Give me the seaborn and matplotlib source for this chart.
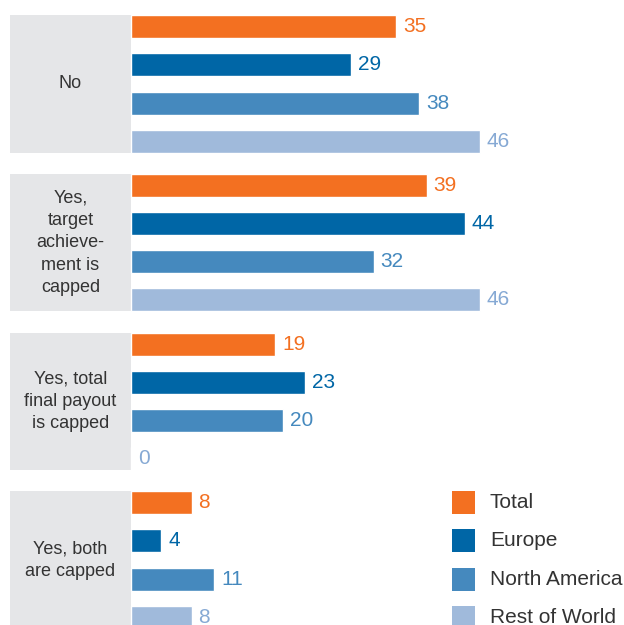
import matplotlib
matplotlib.use("Agg")
import matplotlib.pyplot as plt
from matplotlib.patches import Rectangle
import pandas as pd
import seaborn as sns

# Survey answers and the share (%) of respondents per region
answers = [
    "No",
    "Yes,\ntarget\nachieve-\nment is\ncapped",
    "Yes, total\nfinal payout\nis capped",
    "Yes, both\nare capped",
]
regions = ["Total", "Europe", "North America", "Rest of World"]
total = [35, 39, 19, 8]
europe = [29, 44, 23, 4]
north_america = [38, 32, 20, 11]
rest_of_world = [46, 46, 0, 8]

bar_colors = ["#F37021", "#0066A6", "#4589BE", "#A0BADB"]
label_colors = ["#F37021", "#0066A6", "#4589BE", "#86A9D4"]
box_color = "#E5E6E8"
text_color = "#333333"

rows = []
for region, vals in zip(regions, [total, europe, north_america, rest_of_world]):
    for answer, v in zip(answers, vals):
        rows.append({"answer": answer, "region": region, "share": v})
df = pd.DataFrame(rows)

sns.set_theme(style="white")
plt.rcParams["font.family"] = ["Liberation Sans", "DejaVu Sans"]

W, H = 624, 625
fig = plt.figure(figsize=(W / 100, H / 100), dpi=100)
ax = fig.add_axes([10 / W, 0, (624 - 10) / W, 1])

sns.barplot(
    data=df, y="answer", x="share", hue="region",
    order=answers, hue_order=regions, palette=bar_colors,
    orient="h", width=0.962, gap=0.395, saturation=1,
    legend=False, ax=ax,
)

px_per_unit = 7.58
group_px = 158.67
ax.set_xlim(-121 / px_per_unit, (624 - 131) / px_per_unit)
ax.set_ylim(3 + (625 - 560) / group_px, -84 / group_px)

# Grey panel behind each answer, spanning the height of its bars
box_half = 0.433
for i, answer in enumerate(answers):
    ax.add_patch(Rectangle((-121 / px_per_unit, i - box_half), 121 / px_per_unit,
                           2 * box_half, color=box_color, lw=0, zorder=0))
    ax.text(-60.5 / px_per_unit, i, answer, ha="center", va="center",
            fontsize=13, color=text_color, linespacing=1.42)

# Value labels at the end of each bar
for cont, col, vals in zip(ax.containers, label_colors,
                           [total, europe, north_america, rest_of_world]):
    ax.bar_label(cont, labels=[str(v) for v in vals], padding=5,
                 color=col, fontsize=15)

# Legend swatches aligned with the rows of the last group
sw_x0 = (452 - 131) / px_per_unit
sw_w = 23 / px_per_unit
txt_x = (490 - 131) / px_per_unit
for cont, col, region in zip(ax.containers, bar_colors, regions):
    bar = cont.patches[-1]
    y, h = bar.get_y(), bar.get_height()
    ax.add_patch(Rectangle((sw_x0, y), sw_w, h, color=col, lw=0))
    ax.text(txt_x, y + h / 2, region, ha="left", va="center",
            fontsize=15, color=text_color)

ax.set_xlabel("")
ax.set_ylabel("")
ax.set_xticks([])
ax.set_yticks([])
for s in ax.spines.values():
    s.set_visible(False)

fig.savefig("out.png", dpi=100)
